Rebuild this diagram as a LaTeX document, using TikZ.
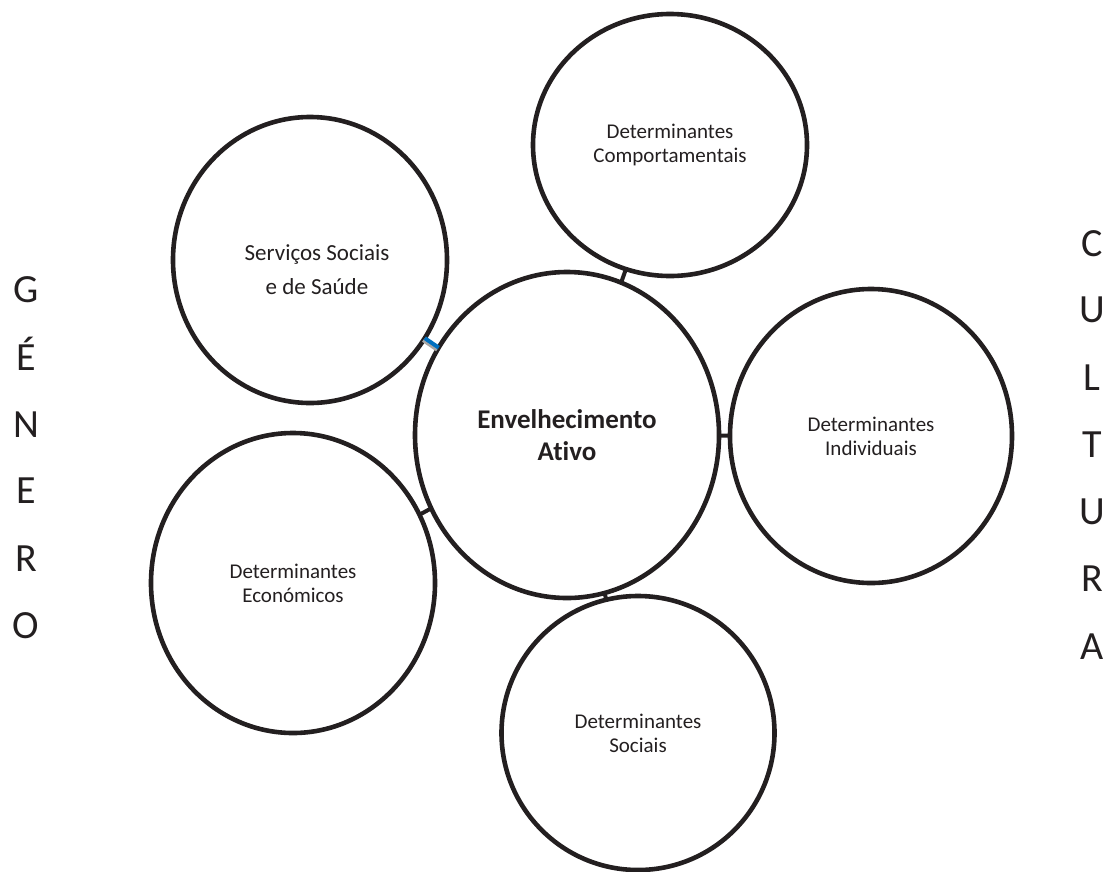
\documentclass[tikz,border=0pt]{standalone}
\usepackage{fontspec}
\setmainfont[RawFeature=-liga]{Carlito}
\usetikzlibrary{shapes.geometric}
\definecolor{ink}{HTML}{231F20}
\definecolor{lnk}{HTML}{0070C0}
\definecolor{shd}{HTML}{A6A6A6}
\begin{document}
\begin{tikzpicture}[x=1pt,y=-1pt,
 bubble/.style={ellipse, draw=ink, line width=4.6pt, inner sep=0pt, outer sep=0pt, align=center, text=ink, font=\fontsize{21}{24}\selectfont},
 link/.style={draw=ink, line width=4pt},
 side/.style={text=ink, font=\fontsize{40}{40}\selectfont, anchor=base, inner sep=0pt}]
\useasboundingbox (0,0) rectangle (1105,871);
\node[bubble, minimum width=304pt, minimum height=326pt, font=\bfseries\fontsize{27}{32}\selectfont] (ea) at (567,435) {Envelhecimento\\Ativo};
\node[bubble, minimum width=274pt, minimum height=262pt] (dc) at (670,145) {Determinantes\\Comportamentais};
\node[bubble, minimum width=274pt, minimum height=286pt] (ss) at (310,260) {};
\node[align=center, text=ink, font=\fontsize{23}{34}\selectfont] (sst) at (317,270) {Serviços Sociais\\e de Saúde};
\node[bubble, minimum width=282pt, minimum height=294pt] (di) at (871,436) {Determinantes\\Individuais};
\node[bubble, minimum width=284pt, minimum height=300pt] (de) at (293,583) {Determinantes\\Económicos};
\node[bubble, minimum width=273pt, minimum height=274pt] (ds) at (638,733) {Determinantes\\Sociais};
\path[link] (ea) -- (dc);
\path[link] (ea) -- (di);
\path[link] (ea) -- (de);
\path[link] (ea) -- (ds);
\path[draw=shd, line width=4pt, transform canvas={shift={(-1.5pt,-2pt)}}] (ea) -- (ss);
\path[draw=lnk, line width=4pt] (ea) -- (ss);
\node[side] (g1) at (26,302) {G};
\node[side] (g2) at (26,370) {É};
\node[side] (g3) at (26,437) {N};
\node[side] (g4) at (26,503) {E};
\node[side] (g5) at (26,571) {R};
\node[side] (g6) at (26,638) {O};
\node[side] (c1) at (1092,256) {C};
\node[side] (c2) at (1092,322) {U};
\node[side] (c3) at (1092,390) {L};
\node[side] (c4) at (1092,457) {T};
\node[side] (c5) at (1092,524) {U};
\node[side] (c6) at (1092,591) {R};
\node[side] (c7) at (1092,659) {A};
\end{tikzpicture}
\end{document}
